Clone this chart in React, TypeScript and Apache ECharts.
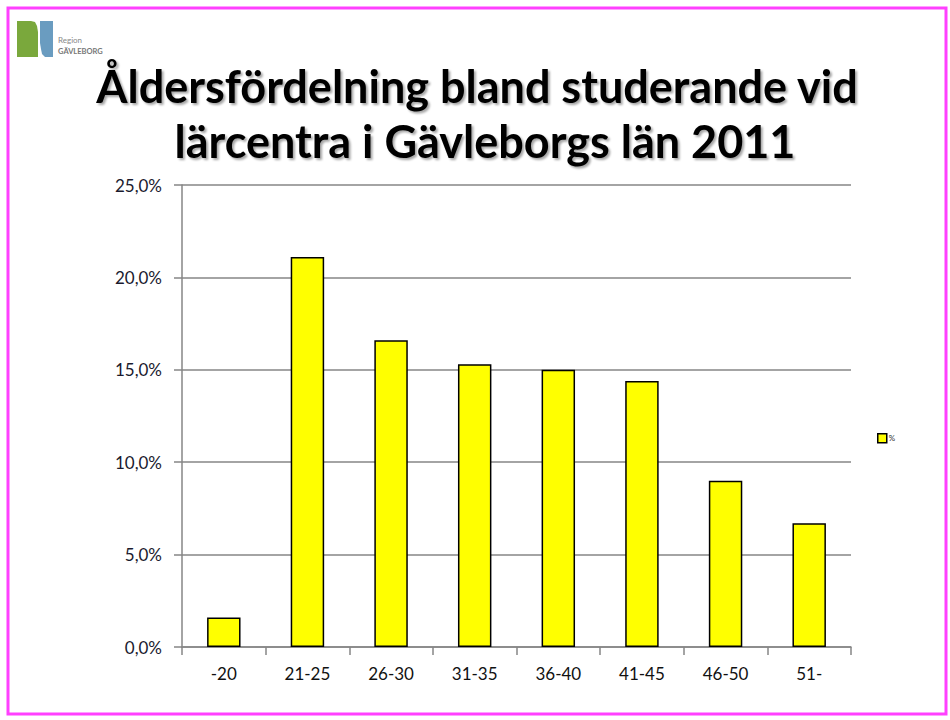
import React, { useEffect, useRef } from "react";
import * as echarts from "echarts";

const categories = ["-20", "21-25", "26-30", "31-35", "36-40", "41-45", "46-50", "51-"];
const percentValues = [1.6, 21.1, 16.6, 15.3, 15.0, 14.4, 9.0, 6.7];
const seriesName = "%";
const titleLines = ["Åldersfördelning bland studerande vid", "lärcentra i Gävleborgs län 2011"];

export default function App() {
  const ref = useRef<HTMLDivElement>(null);
  useEffect(() => {
    document.body.style.margin = "0";
    if (!ref.current) return;
    const chart = echarts.init(ref.current, null, { renderer: "svg" });
    const font = "Lato, 'DejaVu Sans', sans-serif";
    const titleStyle = (text: string) => ({
      text,
      fontSize: 45,
      fontWeight: "bold",
      fill: "#000",
      fontFamily: font,
      align: "center",
      verticalAlign: "middle",
      textShadowColor: "rgba(0,0,0,0.35)",
      textShadowOffsetX: 2,
      textShadowOffsetY: 2,
      textShadowBlur: 2,
    });
    chart.setOption({
      animation: false,
      backgroundColor: "#ffffff",
      textStyle: { fontFamily: font },
      grid: { left: 182, right: 99, top: 185, bottom: 73, containLabel: false },
      legend: {
        left: 872,
        top: 428,
        orient: "vertical",
        icon: "rect",
        itemWidth: 9,
        itemHeight: 9,
        itemGap: 4,
        itemStyle: { color: "#ffff00", borderColor: "#000", borderWidth: 1.5 },
        textStyle: { fontSize: 8, color: "#333", fontFamily: font, padding: [0, 0, 0, -3] },
        data: [seriesName],
      },
      xAxis: {
        type: "category",
        data: categories,
        axisLine: { lineStyle: { color: "#868686", width: 1.5 } },
        axisTick: { show: true, length: 8, lineStyle: { color: "#868686", width: 1.5 } },
        axisLabel: { color: "#111", fontSize: 17, margin: 18, fontFamily: font },
      },
      yAxis: {
        type: "value",
        min: 0,
        max: 25,
        interval: 5,
        axisLine: { show: true, lineStyle: { color: "#868686", width: 1.5 } },
        axisTick: { show: true, length: 8, lineStyle: { color: "#868686", width: 1.5 } },
        splitLine: { lineStyle: { color: "#868686", width: 1.5 } },
        axisLabel: {
          color: "#1a1a2e",
          fontSize: 17,
          margin: 20,
          fontFamily: font,
          formatter: (v: number) => v.toFixed(1).replace(".", ",") + "%",
        },
      },
      series: [
        {
          name: seriesName,
          type: "bar",
          data: percentValues,
          barWidth: "40%",
          itemStyle: { color: "#ffff00", borderColor: "#000", borderWidth: 1.5 },
        },
      ],
      graphic: [
        {
          type: "rect",
          shape: { x: 8, y: 8, width: 938, height: 706 },
          style: { fill: "none", stroke: "#ff40ff", lineWidth: 3 },
          silent: true,
        },
        {
          type: "polygon",
          shape: {
            points: [
              [17, 21], [31, 21], [35, 22], [37, 26], [38, 32], [38, 57], [17, 57],
            ],
          },
          style: { fill: "#7aa83c" },
        },
        {
          type: "polygon",
          shape: {
            points: [
              [40, 21], [53, 21], [53, 57], [45, 57], [42, 54], [41, 49], [40, 43],
            ],
          },
          style: { fill: "#6a9cc0" },
        },
        {
          type: "text",
          x: 58,
          y: 36,
          style: { text: "Region", fontSize: 8, fill: "#888", fontFamily: font },
        },
        {
          type: "text",
          x: 58,
          y: 47,
          style: { text: "GÄVLEBORG", fontSize: 7.5, fontWeight: "bold", fill: "#777", fontFamily: font },
        },
        { type: "text", x: 477, y: 86, style: titleStyle(titleLines[0]) },
        { type: "text", x: 485, y: 141, style: titleStyle(titleLines[1]) },
      ],
    });
    return () => chart.dispose();
  }, []);
  return <div ref={ref} style={{ width: 950, height: 720 }} />;
}
